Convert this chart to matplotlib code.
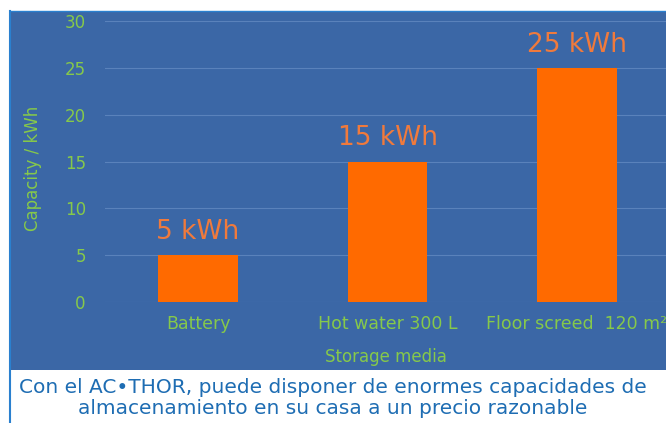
import matplotlib.pyplot as plt
from matplotlib.patches import Rectangle
from matplotlib.lines import Line2D

categories = ['Battery', 'Hot water 300 L', 'Floor screed  120 m²']
capacity = [5, 15, 25]
value_labels = ['5 kWh', '15 kWh', '25 kWh']
yticks = [0, 5, 10, 15, 20, 25, 30]
caption = ('Con el AC•THOR, puede disponer de enormes capacidades de\n'
           'almacenamiento en su casa a un precio razonable')

panel = '#3b67a6'
green = '#86c94a'
orange = '#ff6a00'
label_orange = '#f07a3c'
caption_blue = '#1e6db3'

fig = plt.figure(figsize=(6.66, 4.23), dpi=100, facecolor='white')

# blue panel behind the chart
fig.patches.append(Rectangle((0.015, 0.125), 0.985, 0.849, transform=fig.transFigure,
                             facecolor=panel, edgecolor='none', zorder=-2))
fig.lines.append(Line2D([0.015, 0.015], [0.0, 0.974], transform=fig.transFigure,
                        color='#2a80cf', linewidth=1.5, zorder=-1))
fig.lines.append(Line2D([0.015, 1.0], [0.974, 0.974], transform=fig.transFigure,
                        color='#2a80cf', linewidth=1.0, zorder=-1))

ax = fig.add_axes([0.158, 0.286, 0.842, 0.664])
ax.set_zorder(1)
ax.set_facecolor('none')
x = range(len(categories))
ax.bar(x, capacity, width=0.42, color=orange, zorder=3)
for i, (v, t) in enumerate(zip(capacity, value_labels)):
    ax.text(i, v + 1.1, t, ha='center', va='bottom', color=label_orange, fontsize=19)

ax.set_xlim(-0.49, 2.47)
ax.set_ylim(0, 30)
ax.set_yticks(yticks)
ax.set_xticks(list(x))
ax.set_xticklabels(categories)
ax.tick_params(axis='y', labelsize=12, length=0, pad=14)
ax.tick_params(axis='x', labelsize=12.5, length=0, pad=9)
for lbl in ax.get_yticklabels() + ax.get_xticklabels():
    lbl.set_color(green)
ax.grid(axis='y', color='#5a82bb', linewidth=0.8, zorder=0)
for s in ax.spines.values():
    s.set_visible(False)

ax.set_xlabel('Storage media', color=green, fontsize=12)
ax.xaxis.set_label_coords(0.5, -0.162)
ax.set_ylabel('Capacity / kWh', color=green, fontsize=12)
ax.yaxis.set_label_coords(-0.112, 0.477)

fig.text(0.5, 0.012, caption, ha='center', va='bottom', color=caption_blue,
         fontsize=14.5, linespacing=1.1)

fig.savefig('out.png', dpi=100, facecolor='white')
